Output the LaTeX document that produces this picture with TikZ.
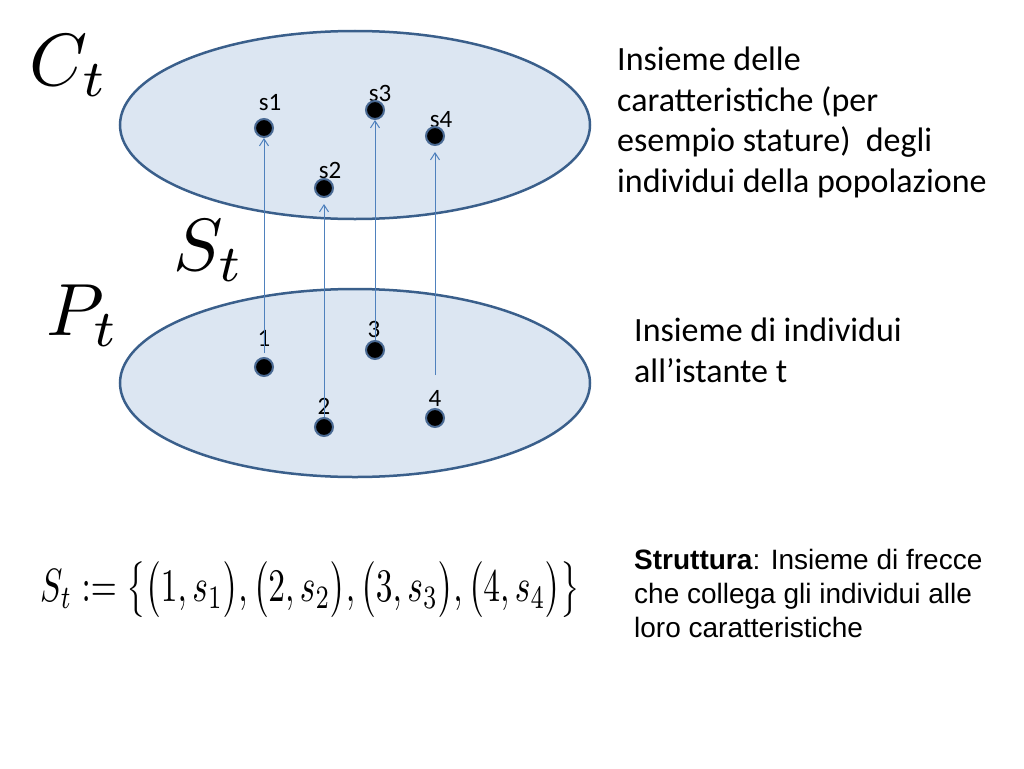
\documentclass[tikz,border=0pt]{standalone}
\usepackage{fontspec}
\usepackage{graphicx}
\usetikzlibrary{arrows.meta,shapes.geometric}
\newfontfamily\carlitofont{Carlito}
\newfontfamily\arialfont{Liberation Sans}
\definecolor{ellfill}{HTML}{DCE6F2}
\definecolor{elldraw}{HTML}{3A5F8B}
\definecolor{arrowblue}{HTML}{4F81BD}
\definecolor{dotring}{HTML}{4A6A94}
\begin{document}
\begin{tikzpicture}[x=1pt,y=-1pt,
  setell/.style={ellipse, draw=elldraw, fill=ellfill, line width=2.5pt,
    minimum width=470pt, minimum height=188pt, inner sep=0},
  dotnode/.style={circle, fill=black, draw=dotring, line width=2pt,
    minimum size=18pt, inner sep=0},
  lbl/.style={font=\carlitofont\fontsize{25}{30}\selectfont, inner sep=0, anchor=base},
  arr/.style={draw=arrowblue, line width=1pt, -{Straight Barb[length=7pt,width=9pt]}},
  bigmath/.style={inner sep=0, anchor=base west, scale=7.4},
  calibritext/.style={font=\carlitofont\fontsize{34}{40.5}\selectfont, align=left, inner sep=0, anchor=north west},
  arialtext/.style={font=\arialfont\fontsize{28}{34}\selectfont, align=left, inner sep=0, anchor=north west}
]
\useasboundingbox (0,0) rectangle (1024,768);
% sets
\node[setell] (C) at (355,125) {};
\node[setell] (P) at (355,383) {};
% big math labels
\node[bigmath] (Ct) at (28,85) {$C_t$};
\node[bigmath] (St) at (172,270) {$S_t$};
\node[bigmath] (Pt) at (45,335) {$P_t$};
% labels
\node[lbl] (ls1) at (270,110) {s1};
\node[lbl] (ls2) at (330,178) {s2};
\node[lbl] (ls3) at (380,101) {s3};
\node[lbl] (ls4) at (441,127) {s4};
\node[lbl] (l1) at (264,346) {1};
\node[lbl] (l2) at (324,414) {2};
\node[lbl] (l3) at (374,337) {3};
\node[lbl] (l4) at (435,406) {4};
% dots
\node[dotnode] (s1) at (264,128) {};
\node[dotnode] (s2) at (324,188) {};
\node[dotnode] (s3) at (375,110) {};
\node[dotnode] (s4) at (435,136) {};
\node[dotnode] (p1) at (264,367) {};
\node[dotnode] (p2) at (324,427) {};
\node[dotnode] (p3) at (375,350) {};
\node[dotnode] (p4) at (435,418) {};
\coordinate (a1) at (264,353);
\coordinate (a4) at (435,375);
% arrows
\draw[arr] (a1) -- (s1);
\draw[arr, shorten >=6pt] (p2) -- (s2);
\draw[arr] (p3) -- (s3);
\draw[arr, shorten >=6pt] (a4) -- (s4);
% texts
\node[calibritext] (tC) at (617,47) {Insieme delle\\caratteristiche (per\\esempio stature)\ \ degli\\individui della popolazione};
\node[calibritext] (tP) at (634,318) {Insieme di individui\\all’istante t};
\node[arialtext] (tS) at (634,549) {\textbf{Struttura}: Insieme di frecce\\che collega gli individui alle\\loro caratteristiche};
\node[anchor=west, inner sep=0] (formula) at (40,590) {\resizebox*{540pt}{56pt}{$S_t := \bigl\{\bigl(1,s_1\bigr),\bigl(2,s_2\bigr),\bigl(3,s_3\bigr),\bigl(4,s_4\bigr)\bigr\}$}};
\end{tikzpicture}
\end{document}
